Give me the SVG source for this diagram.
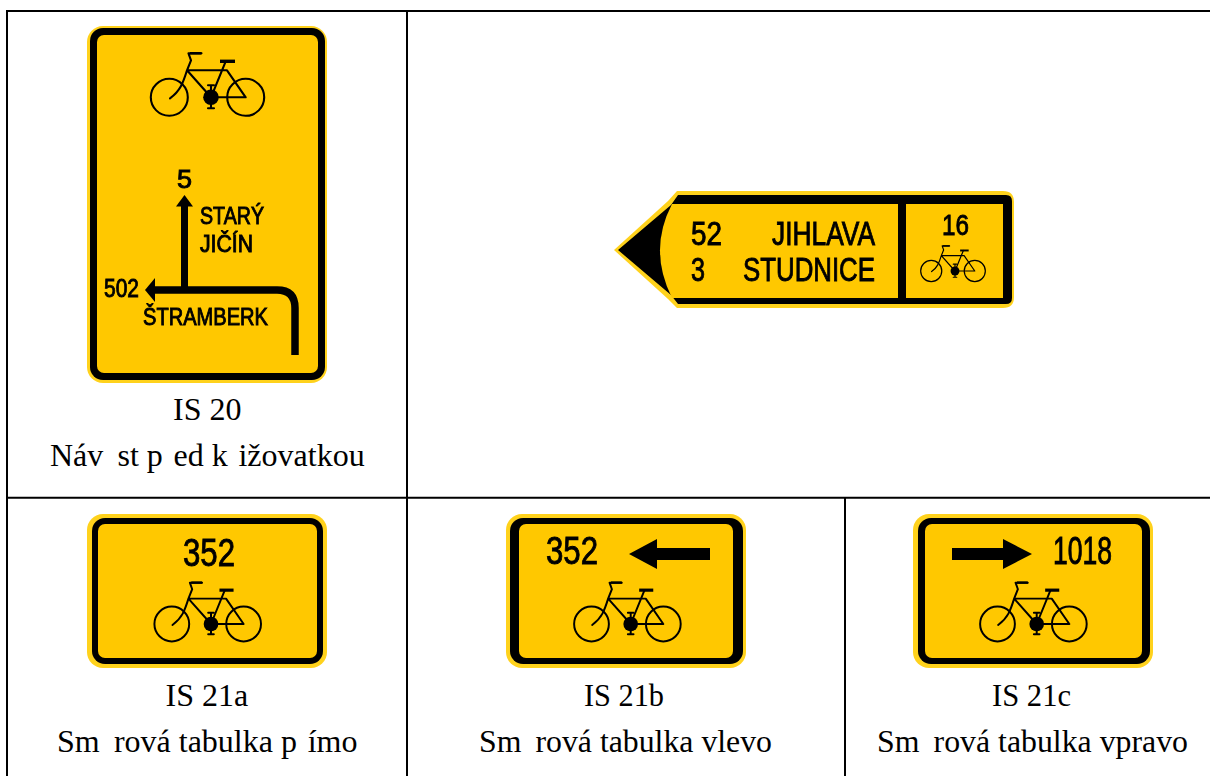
<svg xmlns="http://www.w3.org/2000/svg" width="1210" height="776" viewBox="0 0 1210 776">
<style>
.halo{fill:#ffd21e}
.blk{fill:#000}
.yel{fill:#ffc800}
.t{font-family:"Liberation Sans",Arial,sans-serif;fill:#000;stroke:#000;stroke-width:.9}
.c{font-family:"Liberation Serif","Times New Roman",serif;font-size:32px;fill:#000}
.ln{stroke:#000;stroke-width:2;fill:none}
.b{fill:none;stroke:#000;stroke-width:2.1;stroke-linecap:round;stroke-linejoin:round}
</style>
<defs>
<filter id="soft" x="-5%" y="-5%" width="110%" height="110%"><feGaussianBlur stdDeviation="0.7"/></filter>
<g id="bike">
<circle class="b" cx="-41.7" cy="0" r="18.5"/>
<circle class="b" cx="34.7" cy="0" r="18.5"/>
<path class="b" d="M-9.5 -44H-22.5L-20 -37L-24 -27L0 0L14.7 -36M-24 -27H16L34.7 0H0M-24 -27C-28 -14 -31 -6 -41 1"/>
<path d="M9 -36H24" stroke="#000" stroke-width="3.4" fill="none"/>
<path d="M-9.5 -44H-21" stroke="#000" stroke-width="2.6" fill="none"/>
<circle cx="0" cy="0" r="7.8" fill="#000"/>
<path class="b" d="M0 0V11M-3 11H3M0 0V-12M-3 -12H3"/>
</g>
</defs>
<g id="table" class="ln">
<path d="M6 11H1210M7 10V776M407 11V776M6 497.7H1210M845 498V776"/>
</g>
<g id="connectors"></g>
<g id="is20" filter="url(#soft)">
<rect x="87" y="26" width="240" height="357" rx="16" class="halo"/>
<rect x="90" y="28" width="235" height="352" rx="13" class="blk"/>
<rect x="97" y="35" width="221" height="338" rx="7" class="yel"/>
<use href="#bike" x="211" y="97.3"/>
<path d="M184.5 290V204" stroke="#000" stroke-width="7" fill="none"/>
<path d="M184.5 195L176 206.500H193Z" fill="#000"/>
<path d="M153 290H277Q295 290 295 308V355" stroke="#000" stroke-width="7.5" fill="none"/>
<path d="M145 290L155 278V302Z" fill="#000"/>
<text class="t" x="177" y="188" font-size="25" textLength="15" lengthAdjust="spacingAndGlyphs">5</text>
<text class="t" x="200" y="224" font-size="23" textLength="64" lengthAdjust="spacingAndGlyphs">STARÝ</text>
<text class="t" x="200" y="252" font-size="23" textLength="53" lengthAdjust="spacingAndGlyphs">JIČÍN</text>
<text class="t" x="104" y="297" font-size="25" textLength="35" lengthAdjust="spacingAndGlyphs">502</text>
<text class="t" x="143" y="325" font-size="23" textLength="125" lengthAdjust="spacingAndGlyphs">ŠTRAMBERK</text>
</g>
<g id="is20-caption">
<text class="c" x="173" y="420">IS 20</text>
<text class="c" x="50" y="466">Náv<tspan dx="6.2"> st p</tspan><tspan dx="2.7"> ed k</tspan><tspan dx="2.7"> ižovatkou</tspan></text>
</g>
<g id="is-turn" filter="url(#soft)">
<path d="M614 250L668 201L677 191H1003Q1014 191 1014 202V297Q1014 308 1003 308H677L668 299Z" class="halo"/>
<path d="M618 250L671 205L678 195H1006Q1012 195 1012 201V298Q1012 304 1006 304H678L671 295Z" class="blk"/>
<path d="M672 204H898V298H672Q648 250 672 204Z" class="yel"/>
<rect x="906" y="204" width="97" height="94" class="yel"/>
<text class="t" x="691" y="245" font-size="33" textLength="31" lengthAdjust="spacingAndGlyphs">52</text>
<text class="t" x="772" y="245" font-size="33" textLength="103" lengthAdjust="spacingAndGlyphs">JIHLAVA</text>
<text class="t" x="691" y="281" font-size="33" textLength="14" lengthAdjust="spacingAndGlyphs">3</text>
<text class="t" x="743" y="281" font-size="33" textLength="132" lengthAdjust="spacingAndGlyphs">STUDNICE</text>
<text class="t" x="942" y="235" font-size="30" textLength="27" lengthAdjust="spacingAndGlyphs">16</text>
<use href="#bike" transform="translate(955 271) scale(.57)"/>
</g>
<g id="is21a" filter="url(#soft)">
<rect x="87" y="514" width="240" height="154" rx="16" class="halo"/>
<rect x="92" y="518" width="231" height="146" rx="13" class="blk"/>
<rect x="98" y="524" width="219" height="134" rx="7" class="yel"/>
<text class="t" x="183" y="566" font-size="38" textLength="52" lengthAdjust="spacingAndGlyphs">352</text>
<use href="#bike" transform="translate(211 624) scale(.94)"/>
</g>
<g id="is21a-caption">
<text class="c" x="165.5" y="706">IS 21a</text>
<text class="c" x="57" y="752">Sm<tspan dx="6.2"> rová tabulka p</tspan><tspan dx="2.7"> ímo</tspan></text>
</g>
<g id="is21b" filter="url(#soft)">
<rect x="506" y="514" width="240" height="154" rx="16" class="halo"/>
<rect x="510" y="518" width="233" height="146" rx="13" class="blk"/>
<rect x="519" y="524" width="214" height="134" rx="7" class="yel"/>
<text class="t" x="546" y="564" font-size="38" textLength="52" lengthAdjust="spacingAndGlyphs">352</text>
<path d="M629 554L657 539V548H710V560H657V569Z" class="blk"/>
<use href="#bike" transform="translate(630.7 624) scale(.94)"/>
</g>
<g id="is21b-caption">
<text class="c" x="584" y="706" textLength="80" lengthAdjust="spacingAndGlyphs">IS 21b</text>
<text class="c" x="479" y="752" textLength="293" lengthAdjust="spacingAndGlyphs">Sm<tspan dx="6.2"> rová tabulka vlevo</tspan></text>
</g>
<g id="is21c" filter="url(#soft)">
<rect x="913" y="514" width="240" height="154" rx="16" class="halo"/>
<rect x="918" y="518" width="232" height="146" rx="13" class="blk"/>
<rect x="925" y="524" width="217" height="134" rx="7" class="yel"/>
<text class="t" x="1053" y="564" font-size="38" textLength="59" lengthAdjust="spacingAndGlyphs">1018</text>
<path d="M1032 554L1003 539V548H952V560H1003V569Z" class="blk"/>
<use href="#bike" transform="translate(1036.7 624) scale(.94)"/>
</g>
<g id="is21c-caption">
<text class="c" x="992" y="706" textLength="79" lengthAdjust="spacingAndGlyphs">IS 21c</text>
<text class="c" x="877" y="752" textLength="311" lengthAdjust="spacingAndGlyphs">Sm<tspan dx="6.2"> rová tabulka vpravo</tspan></text>
</g>
</svg>
